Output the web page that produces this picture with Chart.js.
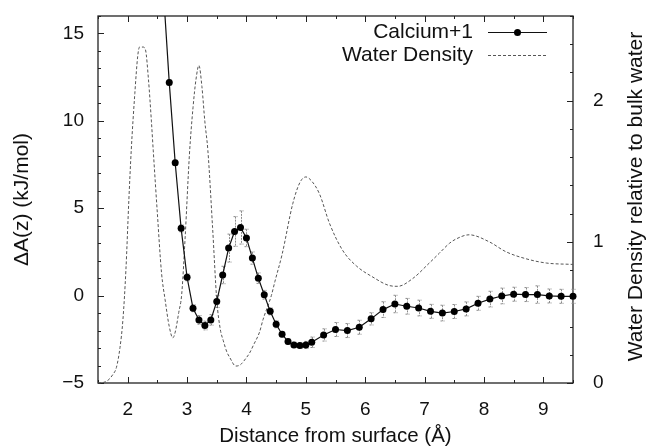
<!DOCTYPE html>
<html>
<head>
<meta charset="utf-8">
<script src="https://cdn.jsdelivr.net/npm/chart.js@4.4.1/dist/chart.umd.min.js"></script>
<style>
  html, body { margin: 0; padding: 0; background: #fff; }
  canvas { display: block; }
</style>
</head>
<body>
<canvas id="chart" width="647" height="447"></canvas>
<script>
// ===== Free energy profile of Ca near the surface + water density =====

// Calcium+1: distance (Å), ΔA(z) (kJ/mol), error bar half-height
const caDist = [2.6, 2.7, 2.8, 2.9, 3.0, 3.1, 3.2, 3.3, 3.4, 3.5, 3.6, 3.7, 3.8, 3.9, 4.0,
                4.1, 4.2, 4.3, 4.4, 4.5, 4.6, 4.7, 4.8, 4.9, 5.0, 5.1,
                5.3, 5.5, 5.7, 5.9, 6.1, 6.3, 6.5, 6.7, 6.9, 7.1, 7.3, 7.5, 7.7, 7.9,
                8.1, 8.3, 8.5, 8.7, 8.9, 9.1, 9.3, 9.5];
const caEnergy = [17.5, 12.2, 7.6, 3.85, 1.05, -0.72, -1.39, -1.71, -1.39, -0.33, 1.18, 2.72, 3.67, 3.9, 3.3,
                  2.15, 1.0, 0.05, -0.9, -1.64, -2.21, -2.63, -2.82, -2.86, -2.82, -2.67,
                  -2.25, -1.94, -2.0, -1.81, -1.33, -0.8, -0.48, -0.61, -0.71, -0.9, -1.0, -0.91, -0.76, -0.44,
                  -0.2, -0.02, 0.08, 0.06, 0.06, -0.02, -0.04, -0.04];
const caError = [0.2, 0.15, 0.15, 0.2, 0.2, 0.2, 0.25, 0.25, 0.3, 0.35, 0.5, 0.8, 0.85, 0.95, 0.5,
                 0.35, 0.3, 0.25, 0.2, 0.2, 0.15, 0.15, 0.15, 0.15, 0.2, 0.3,
                 0.35, 0.4, 0.4, 0.4, 0.35, 0.45, 0.5, 0.45, 0.45, 0.4, 0.45, 0.4, 0.4, 0.4,
                 0.45, 0.45, 0.4, 0.4, 0.5, 0.4, 0.4, 0.4];

// Water density relative to bulk water (right axis)
const waterDist = [1.5, 1.6, 1.67, 1.75, 1.81, 1.87, 1.92, 1.97, 2.02, 2.06, 2.12, 2.17, 2.2, 2.26, 2.3,
                   2.35, 2.4, 2.43, 2.5, 2.57, 2.63, 2.7, 2.76, 2.8, 2.86, 2.91, 2.97, 3.04, 3.1, 3.15,
                   3.2, 3.25, 3.3, 3.35, 3.43, 3.5, 3.56, 3.61, 3.67, 3.72, 3.82, 3.9, 4.0, 4.05, 4.12,
                   4.22, 4.28, 4.42, 4.48, 4.6, 4.78, 4.9, 5.0, 5.1, 5.23, 5.4, 5.62, 5.85, 6.13, 6.41,
                   6.55, 6.8, 7.08, 7.25, 7.42, 7.53, 7.75, 8.09, 8.37, 8.71, 9.05, 9.5];
const waterDensity = [0.0, 0.005, 0.02, 0.06, 0.11, 0.25, 0.45, 0.8, 1.3, 1.65, 2.05, 2.32, 2.38, 2.38, 2.36,
                      2.15, 1.85, 1.65, 1.2, 0.78, 0.59, 0.4, 0.32, 0.36, 0.5, 0.63, 1.05, 1.62, 1.95, 2.15,
                      2.25, 2.1, 1.85, 1.65, 1.1, 0.59, 0.38, 0.3, 0.22, 0.18, 0.12, 0.13, 0.18, 0.21, 0.27,
                      0.36, 0.45, 0.62, 0.72, 0.91, 1.27, 1.42, 1.46, 1.43, 1.34, 1.13, 0.94, 0.83, 0.75, 0.69,
                      0.685, 0.74, 0.85, 0.92, 0.99, 1.02, 1.05, 1.0, 0.93, 0.88, 0.85, 0.84];

const X_TITLE  = 'Distance from surface (Å)';
const Y_TITLE  = 'ΔA(z) (kJ/mol)';
const Y2_TITLE = 'Water Density relative to bulk water';

const FONT = "'Liberation Sans', Arial, Helvetica, sans-serif";
const INK  = '#222';

const isMultiple = (v, step) => Math.abs(v / step - Math.round(v / step)) < 1e-6;
const fmt = v => (v < 0 ? '\u2212' + Math.abs(v) : String(v));

// ── Plugins ────────────────────────────────────────────────────────────────

// gnuplot-style frame with inward ticks (x mirrored on top)
const frameTicks = {
  id: 'frameTicks',
  beforeDatasetsDraw(chart) {
    const { ctx, chartArea: a, scales } = chart;
    ctx.save();
    ctx.strokeStyle = INK;
    ctx.lineWidth = 1;
    ctx.beginPath();
    scales.x.ticks.forEach(t => {
      const px = Math.round(scales.x.getPixelForValue(t.value)) + 0.5;
      const len = isMultiple(t.value, 1) ? 6 : 3;
      ctx.moveTo(px, a.bottom); ctx.lineTo(px, a.bottom - len);
      ctx.moveTo(px, a.top);    ctx.lineTo(px, a.top + len);
    });
    scales.y.ticks.forEach(t => {
      const py = Math.round(scales.y.getPixelForValue(t.value)) + 0.5;
      const len = isMultiple(t.value, 5) ? 6 : 3;
      ctx.moveTo(a.left, py); ctx.lineTo(a.left + len, py);
    });
    scales.y2.ticks.forEach(t => {
      const py = Math.round(scales.y2.getPixelForValue(t.value)) + 0.5;
      const len = isMultiple(t.value, 1) ? 6 : 3;
      ctx.moveTo(a.right, py); ctx.lineTo(a.right - len, py);
    });
    ctx.stroke();
    ctx.lineWidth = 1.3;
    ctx.strokeRect(a.left, a.top, a.right - a.left, a.bottom - a.top);
    ctx.restore();
  },
};

// vertical error bars for the Calcium series
const errorBars = {
  id: 'errorBars',
  beforeDatasetsDraw(chart) {
    const { ctx, chartArea: a, scales } = chart;
    ctx.save();
    ctx.beginPath();
    ctx.rect(a.left - 4, a.top, a.right - a.left + 8, a.bottom - a.top);
    ctx.clip();
    ctx.strokeStyle = '#8a8a8a';
    ctx.lineWidth = 1;
    ctx.setLineDash([2, 1]);
    ctx.beginPath();
    caDist.forEach((x, i) => {
      const px = Math.round(scales.x.getPixelForValue(x)) + 0.5;
      const hi = scales.y.getPixelForValue(caEnergy[i] + caError[i]);
      const lo = scales.y.getPixelForValue(caEnergy[i] - caError[i]);
      ctx.moveTo(px, hi); ctx.lineTo(px, lo);
      ctx.moveTo(px - 2, hi); ctx.lineTo(px + 2, hi);
      ctx.moveTo(px - 2, lo); ctx.lineTo(px + 2, lo);
    });
    ctx.stroke();
    ctx.restore();
  },
};

// key in the top-right corner: text right-aligned, sample to its right
const keyBox = {
  id: 'keyBox',
  afterDatasetsDraw(chart) {
    const { ctx, chartArea: a } = chart;
    const textRight = a.right - 100, x0 = a.right - 85, x1 = a.right - 26;
    ctx.save();
    ctx.font = `21px ${FONT}`;
    ctx.fillStyle = '#111';
    ctx.textAlign = 'right';
    ctx.textBaseline = 'middle';
    chart.data.datasets.forEach((ds, i) => {
      const y = a.top + 16 + i * 23;
      ctx.fillText(ds.label, textRight, y);
      ctx.beginPath();
      ctx.strokeStyle = ds.borderColor;
      ctx.lineWidth = ds.borderWidth;
      ctx.setLineDash(ds.borderDash || []);
      ctx.moveTo(x0, y + 0.5); ctx.lineTo(x1, y + 0.5);
      ctx.stroke();
      if (ds.pointRadius > 0) {
        ctx.setLineDash([]);
        ctx.fillStyle = ds.pointBackgroundColor;
        ctx.beginPath();
        ctx.arc((x0 + x1) / 2, y + 0.5, ds.pointRadius, 0, Math.PI * 2);
        ctx.fill();
        ctx.fillStyle = '#111';
      }
    });
    ctx.restore();
  },
};

// right-axis title reads bottom-to-top
const rightTitle = {
  id: 'rightTitle',
  afterDraw(chart) {
    const { ctx, chartArea: a } = chart;
    ctx.save();
    ctx.translate(636, (a.top + a.bottom) / 2 - 3);
    ctx.rotate(-Math.PI / 2);
    ctx.font = `21px ${FONT}`;
    ctx.fillStyle = '#111';
    ctx.textAlign = 'center';
    ctx.textBaseline = 'middle';
    ctx.fillText(Y2_TITLE, 0, 0);
    ctx.restore();
  },
};

// ── Chart ──────────────────────────────────────────────────────────────────

const tickFont = { family: FONT, size: 19 };
const noGrid = { display: false, drawTicks: false };

// fixed axis boxes so the plot frame lands at left 98, right 573, top 16, bottom 383
const fixBox = (w, h) => s => {
  if (w !== null) s.width = w;
  if (h !== null) s.height = h;
  s.paddingTop = 0; s.paddingBottom = 0; s.paddingLeft = 0; s.paddingRight = 0;
};

new Chart(document.getElementById('chart'), {
  type: 'line',
  data: {
    datasets: [
      {
        label: 'Calcium+1',
        data: caDist.map((x, i) => ({ x, y: caEnergy[i] })),
        yAxisID: 'y',
        borderColor: '#111',
        borderWidth: 1.2,
        pointRadius: 3.5,
        pointBackgroundColor: '#000',
        pointBorderWidth: 0,
        tension: 0,
        clip: { left: 6, top: 0, right: 6, bottom: 6 },
      },
      {
        label: 'Water Density',
        data: waterDist.map((x, i) => ({ x, y: waterDensity[i] })),
        yAxisID: 'y2',
        borderColor: '#555',
        borderWidth: 1,
        borderDash: [3, 2],
        pointRadius: 0,
        cubicInterpolationMode: 'monotone',
        clip: 2,
      },
    ],
  },
  options: {
    responsive: false,
    animation: false,
    events: [],
    layout: { padding: { top: 16, left: 0, right: 0, bottom: 0 } },
    plugins: { legend: { display: false }, tooltip: { enabled: false } },
    scales: {
      x: {
        type: 'linear', min: 1.5, max: 9.5,
        grid: noGrid, border: { display: false },
        ticks: {
          stepSize: 0.5, autoSkip: false, maxRotation: 0, padding: 15,
          color: '#111', font: tickFont,
          callback: v => (isMultiple(v, 1) ? fmt(Math.round(v)) : ''),
        },
        title: { display: true, text: X_TITLE, color: '#111',
                 font: { family: FONT, size: 20.5 }, padding: { top: 0, bottom: -2 } },
        afterFit: fixBox(null, 64),
      },
      y: {
        type: 'linear', position: 'left', min: -5, max: 16,
        grid: noGrid, border: { display: false },
        ticks: {
          stepSize: 1, autoSkip: false, padding: 14,
          color: '#111', font: tickFont,
          callback: v => (isMultiple(v, 5) ? fmt(Math.round(v)) : ''),
        },
        title: { display: true, text: Y_TITLE, color: '#111',
                 font: { family: FONT, size: 21 }, padding: { top: 10, bottom: 0 } },
        afterFit: fixBox(98, null),
      },
      y2: {
        type: 'linear', position: 'right', min: 0, max: 2.6,
        grid: noGrid, border: { display: false },
        ticks: {
          stepSize: 0.2, autoSkip: false, padding: 20,
          color: '#111', font: tickFont,
          callback: v => (isMultiple(v, 1) ? fmt(Math.round(v)) : ''),
        },
        afterFit: fixBox(74, null),
      },
    },
  },
  plugins: [frameTicks, errorBars, keyBox, rightTitle],
});
</script>
</body>
</html>
